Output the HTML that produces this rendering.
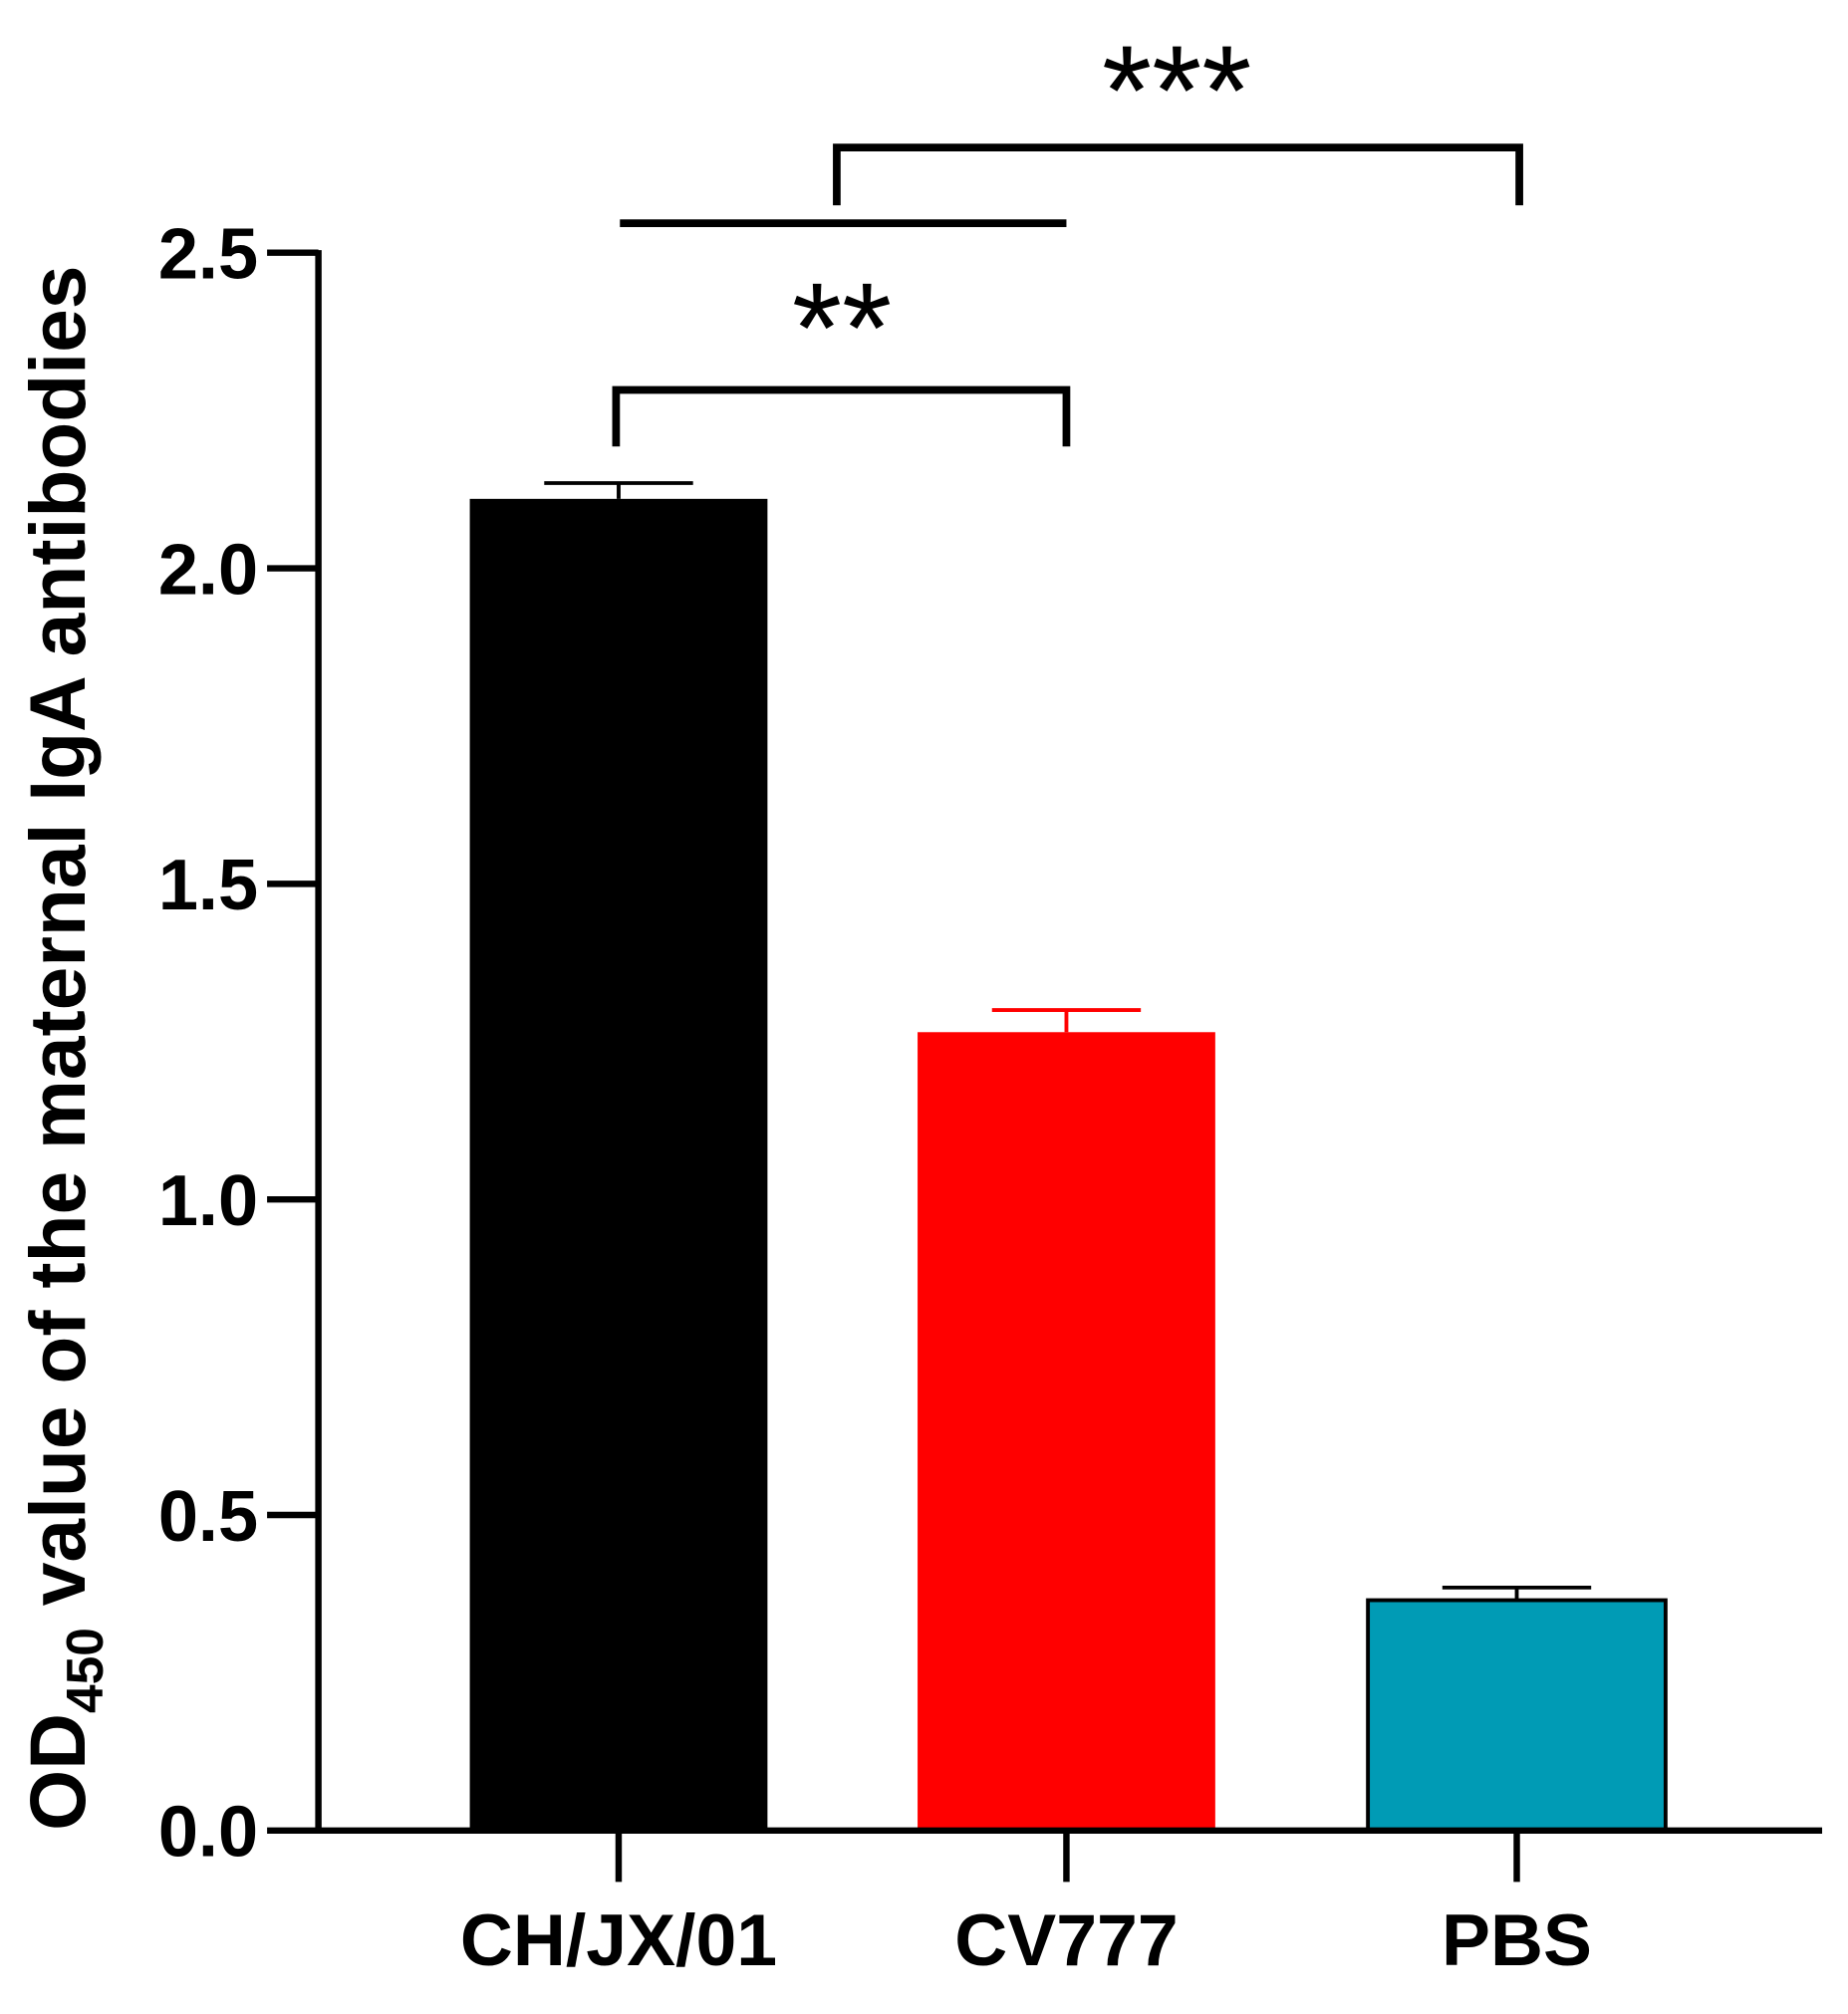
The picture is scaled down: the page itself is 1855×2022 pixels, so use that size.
<!DOCTYPE html>
<html><head><meta charset="utf-8"><style>html,body{margin:0;padding:0;background:#fff}svg{display:block}</style></head>
<body>
<svg id="chart" width="1855" height="2022" viewBox="0 0 1440 1570" xmlns="http://www.w3.org/2000/svg" font-family="Liberation Sans, sans-serif" font-weight="bold">
<g id="plot"></g>
</svg>
<script>
const categories = ["CH/JX/01", "CV777", "PBS"];
const values = [2.11, 1.265, 0.365];
const errors = [0.025, 0.035, 0.02];
const colors = ["#000000", "#ff0000", "#009bb5"];
const errColors = ["#000000", "#ff0000", "#000000"];
const yTicks = [0, 0.5, 1.0, 1.5, 2.0, 2.5];
const yTickLabels = ["0.0", "0.5", "1.0", "1.5", "2.0", "2.5"];

const NS = "http://www.w3.org/2000/svg";
const g = document.getElementById("plot");
const X0 = 248, X1 = 1420, Y0 = 1427, YT = 197, YMAX = 2.5;
const xs = [482, 831, 1182];
const barW = 232;
function y(v){ return Y0 - (Y0 - YT) * v / YMAX; }
function mk(tag, attrs, text){
  const e = document.createElementNS(NS, tag);
  for (const k in attrs) e.setAttribute(k, attrs[k]);
  if (text !== undefined) e.textContent = text;
  g.appendChild(e); return e;
}

categories.forEach((c, i) => {
  const top = y(values[i]);
  const b = mk("rect", {x: xs[i]-barW/2, y: top, width: barW, height: Y0-top, fill: colors[i], stroke: "#000", "stroke-width": i===2?3:0});
  
  
  const ey = y(values[i] + errors[i]);
  const e1 = mk("line", {x1: xs[i], x2: xs[i], y1: top, y2: ey, stroke: errColors[i], "stroke-width": 3});
  
  
  const e2 = mk("line", {x1: xs[i]-58, x2: xs[i]+58, y1: ey, y2: ey, stroke: errColors[i], "stroke-width": 3});
  
  
  const t = mk("line", {x1: xs[i], x2: xs[i], y1: Y0, y2: 1467, stroke: "#000", "stroke-width": 5});
  
  
  const l = mk("text", {x: xs[i], y: 1532, "text-anchor": "middle", "font-size": 57}, c);
  
  
});

const ya = mk("line", {x1: X0, x2: X0, y1: YT-2, y2: Y0+2, stroke: "#000", "stroke-width": 5});


const xa = mk("line", {x1: X0-2, x2: X1, y1: Y0, y2: Y0, stroke: "#000", "stroke-width": 5});


yTicks.forEach((v, i) => {
  const t = mk("line", {x1: 208, x2: X0, y1: y(v), y2: y(v), stroke: "#000", "stroke-width": 5});
  
  
  const l = mk("text", {x: 201, y: y(v)+20, "text-anchor": "end", "font-size": 56}, yTickLabels[i]);
  
  
});

function path(d, name){
  const p = mk("path", {d: d, fill: "none", stroke: "#000", "stroke-width": 6});
  
  
}
path("M480 348 V304 H831 V348", "bracket-ch-cv777");
path("M483 174 H831", "group-line");
path("M652 160 V115 H1184 V160", "bracket-group-pbs");
const s2 = mk("text", {x: 656, y: 290, "text-anchor": "middle", "font-size": 100, "font-weight": "normal"}, "**");


const s3 = mk("text", {x: 917, y: 105, "text-anchor": "middle", "font-size": 100, "font-weight": "normal"}, "***");



const yt = mk("text", {transform: "translate(66 817) rotate(-90)", "text-anchor": "middle", "font-size": 61});


const a = document.createElementNS(NS, "tspan"); a.textContent = "OD"; yt.appendChild(a);
const b = document.createElementNS(NS, "tspan"); b.setAttribute("font-size", "40"); b.setAttribute("dy", "14"); b.textContent = "450"; yt.appendChild(b);
const c = document.createElementNS(NS, "tspan"); c.setAttribute("dy", "-14"); c.textContent = " value of the maternal IgA antibodies"; yt.appendChild(c);
</script>
</body></html>
